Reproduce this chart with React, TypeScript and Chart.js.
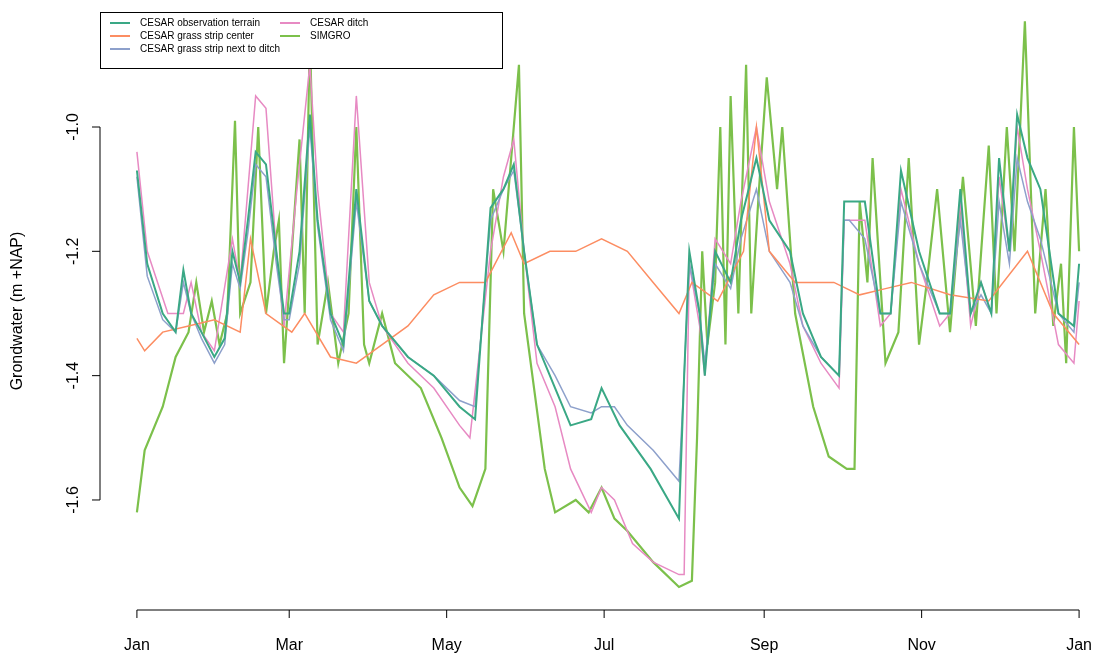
import { useEffect, useRef } from "react";
import { Chart, registerables } from "chart.js";

Chart.register(...registerables);

// day of year -> groundwater level (m +NAP)
const obsDays = [0, 4, 10, 15, 18, 21, 25, 30, 34, 37, 40, 43, 46, 50, 54, 57, 59, 63, 67, 70, 75, 80, 85, 90, 95, 105, 115, 125, 131, 137, 142, 146, 150, 155, 162, 168, 176, 180, 187, 199, 210, 212, 214, 218, 220, 224, 230, 234, 240, 245, 253, 258, 265, 272, 274, 276, 282, 288, 292, 296, 303, 311, 315, 319, 323, 327, 331, 334, 338, 341, 345, 350, 357, 363, 365];
const obsVals = [-1.07, -1.22, -1.3, -1.33, -1.23, -1.3, -1.33, -1.37, -1.34, -1.2, -1.25, -1.15, -1.04, -1.06, -1.2, -1.3, -1.3, -1.2, -0.98, -1.15, -1.3, -1.35, -1.1, -1.28, -1.32, -1.37, -1.4, -1.45, -1.47, -1.13, -1.1, -1.06, -1.2, -1.35, -1.42, -1.48, -1.47, -1.42, -1.48, -1.55, -1.63, -1.4, -1.2, -1.3, -1.4, -1.2, -1.25, -1.15, -1.05, -1.15, -1.2, -1.3, -1.37, -1.4, -1.12, -1.12, -1.12, -1.3, -1.3, -1.07, -1.2, -1.3, -1.3, -1.1, -1.3, -1.25, -1.3, -1.05, -1.2, -0.98, -1.05, -1.1, -1.3, -1.32, -1.22];

const ditchDays = [0, 4, 12, 18, 21, 25, 30, 37, 40, 46, 50, 54, 57, 62, 67, 70, 75, 80, 85, 90, 95, 105, 115, 125, 129, 137, 142, 146, 150, 155, 162, 168, 176, 180, 185, 192, 200, 210, 212, 214, 218, 220, 224, 230, 234, 240, 245, 253, 258, 265, 272, 274, 276, 282, 288, 292, 296, 303, 311, 315, 319, 323, 327, 331, 334, 338, 341, 345, 350, 357, 363, 365];
const ditchVals = [-1.04, -1.2, -1.3, -1.3, -1.25, -1.33, -1.36, -1.18, -1.25, -0.95, -0.97, -1.2, -1.32, -1.1, -0.9, -1.1, -1.3, -1.33, -0.95, -1.25, -1.32, -1.38, -1.42, -1.48, -1.5, -1.2, -1.08, -1.02, -1.2, -1.38, -1.45, -1.55, -1.62, -1.58, -1.6, -1.67, -1.7, -1.72, -1.72, -1.22, -1.32, -1.4, -1.18, -1.22, -1.12, -1.0, -1.12, -1.22, -1.32, -1.38, -1.42, -1.15, -1.15, -1.15, -1.32, -1.3, -1.1, -1.22, -1.32, -1.3, -1.12, -1.32, -1.25, -1.3, -1.08, -1.2, -1.0, -1.1, -1.2, -1.35, -1.38, -1.28];

const nextDays = [0, 4, 10, 15, 18, 21, 25, 30, 34, 37, 40, 43, 46, 50, 54, 57, 59, 63, 67, 70, 75, 80, 85, 90, 95, 105, 115, 125, 131, 137, 142, 146, 150, 155, 162, 168, 176, 180, 185, 190, 200, 210, 212, 214, 218, 220, 224, 230, 234, 240, 245, 253, 258, 265, 272, 274, 276, 282, 288, 292, 296, 303, 311, 315, 319, 323, 327, 331, 334, 338, 341, 345, 350, 357, 363, 365];
const nextVals = [-1.08, -1.24, -1.31, -1.33, -1.25, -1.3, -1.34, -1.38, -1.35, -1.22, -1.26, -1.17, -1.06, -1.08, -1.22, -1.31, -1.31, -1.22, -1.0, -1.16, -1.31, -1.36, -1.12, -1.28, -1.32, -1.37, -1.4, -1.44, -1.45, -1.15, -1.1, -1.07, -1.2, -1.35, -1.4, -1.45, -1.46, -1.45, -1.45, -1.48, -1.52, -1.57, -1.4, -1.22, -1.3, -1.38, -1.22, -1.26, -1.18, -1.1, -1.2, -1.25, -1.32, -1.37, -1.4, -1.15, -1.15, -1.18, -1.3, -1.3, -1.12, -1.22, -1.3, -1.3, -1.15, -1.3, -1.27, -1.3, -1.12, -1.22, -1.05, -1.12, -1.18, -1.3, -1.33, -1.25];

const centerDays = [0, 3, 10, 20, 30, 40, 44, 50, 60, 65, 75, 85, 95, 105, 115, 125, 135, 145, 150, 160, 170, 180, 190, 200, 210, 215, 225, 235, 240, 245, 255, 270, 280, 290, 300, 315, 330, 345, 355, 365];
const centerVals = [-1.34, -1.36, -1.33, -1.32, -1.31, -1.33, -1.18, -1.3, -1.33, -1.3, -1.37, -1.38, -1.35, -1.32, -1.27, -1.25, -1.25, -1.17, -1.22, -1.2, -1.2, -1.18, -1.2, -1.25, -1.3, -1.25, -1.28, -1.2, -1.0, -1.2, -1.25, -1.25, -1.27, -1.26, -1.25, -1.27, -1.28, -1.2, -1.3, -1.35];

const simDays = [0, 3, 10, 15, 20, 23, 26, 29, 32, 35, 38, 40, 44, 47, 50, 53, 55, 57, 60, 63, 65, 67, 70, 74, 78, 82, 85, 88, 90, 95, 100, 110, 118, 125, 130, 135, 138, 142, 148, 150, 158, 162, 170, 175, 180, 185, 190, 200, 210, 215, 217, 219, 221, 224, 226, 228, 230, 233, 236, 238, 241, 244, 248, 250, 255, 262, 268, 275, 278, 280, 283, 285, 290, 295, 299, 303, 306, 310, 315, 320, 325, 330, 333, 337, 340, 344, 348, 352, 355, 358, 360, 363, 365];
const simVals = [-1.62, -1.52, -1.45, -1.37, -1.33, -1.25, -1.33, -1.28, -1.35, -1.3, -0.99, -1.3, -1.25, -1.0, -1.3, -1.2, -1.15, -1.38, -1.2, -1.02, -1.3, -0.85, -1.35, -1.25, -1.38, -1.3, -1.0, -1.35, -1.38, -1.3, -1.38, -1.42, -1.5, -1.58, -1.61, -1.55, -1.1, -1.2, -0.9, -1.3, -1.55, -1.62, -1.6, -1.62, -1.58, -1.63, -1.65, -1.7, -1.74, -1.73, -1.5, -1.2, -1.35, -1.25, -1.0, -1.35, -0.95, -1.3, -0.9, -1.3, -1.1, -0.92, -1.1, -1.0, -1.3, -1.45, -1.53, -1.55, -1.55, -1.12, -1.25, -1.05, -1.38, -1.33, -1.05, -1.35, -1.25, -1.1, -1.33, -1.08, -1.32, -1.03, -1.3, -1.0, -1.2, -0.83, -1.3, -1.1, -1.32, -1.22, -1.38, -1.0, -1.2];

const monthTicks = [0, 59, 120, 181, 243, 304, 365];
const monthLabels = ["Jan", "Mar", "May", "Jul", "Sep", "Nov", "Jan"];
const yTicks = [-1.6, -1.4, -1.2, -1.0];

const series = [
  { label: "CESAR observation terrain", days: obsDays, vals: obsVals, color: "#3aa885", width: 2 },
  { label: "CESAR grass strip center", days: centerDays, vals: centerVals, color: "#fc8d62", width: 1.5 },
  { label: "CESAR grass strip next to ditch", days: nextDays, vals: nextVals, color: "#8da0cb", width: 1.5 },
  { label: "CESAR ditch", days: ditchDays, vals: ditchVals, color: "#e78ac3", width: 1.5 },
  { label: "SIMGRO", days: simDays, vals: simVals, color: "#7cc04b", width: 2.2 },
];

const FONT = "'Liberation Sans', Arial, sans-serif";

const axesPlugin = {
  id: "rAxes",
  afterDraw(chart: any) {
    const ctx = chart.ctx;
    const x = chart.scales.x;
    const y = chart.scales.y;
    const area = chart.chartArea;
    ctx.save();
    ctx.strokeStyle = "#000";
    ctx.lineWidth = 1;
    ctx.fillStyle = "#000";
    // bottom axis
    const by = area.bottom;
    ctx.beginPath();
    ctx.moveTo(x.getPixelForValue(monthTicks[0]), by);
    ctx.lineTo(x.getPixelForValue(monthTicks[monthTicks.length - 1]), by);
    monthTicks.forEach((t) => {
      const px = x.getPixelForValue(t);
      ctx.moveTo(px, by);
      ctx.lineTo(px, by + 8);
    });
    ctx.stroke();
    ctx.font = `16px ${FONT}`;
    ctx.textAlign = "center";
    ctx.textBaseline = "middle";
    monthTicks.forEach((t, i) => ctx.fillText(monthLabels[i], x.getPixelForValue(t), by + 36));
    // left axis
    const lx = area.left;
    ctx.beginPath();
    ctx.moveTo(lx, y.getPixelForValue(yTicks[0]));
    ctx.lineTo(lx, y.getPixelForValue(yTicks[yTicks.length - 1]));
    yTicks.forEach((t) => {
      const py = y.getPixelForValue(t);
      ctx.moveTo(lx, py);
      ctx.lineTo(lx - 8, py);
    });
    ctx.stroke();
    yTicks.forEach((t) => {
      ctx.save();
      ctx.translate(lx - 26, y.getPixelForValue(t));
      ctx.rotate(-Math.PI / 2);
      ctx.fillText(t.toFixed(1), 0, 0);
      ctx.restore();
    });
    ctx.save();
    ctx.translate(18, (area.top + area.bottom) / 2);
    ctx.rotate(-Math.PI / 2);
    ctx.fillText("Grondwater (m +NAP)", 0, 0);
    ctx.restore();
    // legend
    ctx.fillStyle = "#fff";
    ctx.fillRect(area.left, area.top, 402, 56);
    ctx.strokeRect(area.left + 0.5, area.top + 0.5, 402, 56);
    ctx.font = `10px ${FONT}`;
    ctx.textAlign = "left";
    const cols = [area.left + 10, area.left + 180];
    series.forEach((s, i) => {
      const cx = cols[i < 3 ? 0 : 1];
      const cy = area.top + 11 + (i < 3 ? i : i - 3) * 13;
      ctx.strokeStyle = s.color;
      ctx.lineWidth = 2;
      ctx.beginPath();
      ctx.moveTo(cx, cy);
      ctx.lineTo(cx + 20, cy);
      ctx.stroke();
      ctx.fillStyle = "#000";
      ctx.fillText(s.label, cx + 30, cy);
    });
    ctx.restore();
  },
};

export default function App() {
  const canvasRef = useRef<HTMLCanvasElement>(null);

  useEffect(() => {
    document.body.style.margin = "0";
    if (!canvasRef.current) return;
    const chart = new Chart(canvasRef.current, {
      type: "line",
      data: {
        datasets: series.map((s) => ({
          label: s.label,
          data: s.days.map((d, i) => ({ x: d, y: s.vals[i] })),
          borderColor: s.color,
          borderWidth: s.width,
          pointRadius: 0,
          tension: 0,
          fill: false,
        })),
      },
      options: {
        animation: false,
        responsive: false,
        layout: { padding: { top: 12, right: 10 } },
        plugins: { legend: { display: false }, tooltip: { enabled: false } },
        scales: {
          x: {
            type: "linear",
            min: -14.3,
            max: 370,
            grid: { display: false },
            border: { display: false },
            ticks: { display: false },
            afterFit: (s: any) => { s.height = 47; },
          },
          y: {
            min: -1.777,
            max: -0.815,
            grid: { display: false },
            border: { display: false },
            ticks: { display: false },
            afterFit: (s: any) => { s.width = 100; },
          },
        },
      },
      plugins: [axesPlugin],
    });
    return () => chart.destroy();
  }, []);

  return <canvas ref={canvasRef} width={1102} height={657} style={{ display: "block" }} />;
}
